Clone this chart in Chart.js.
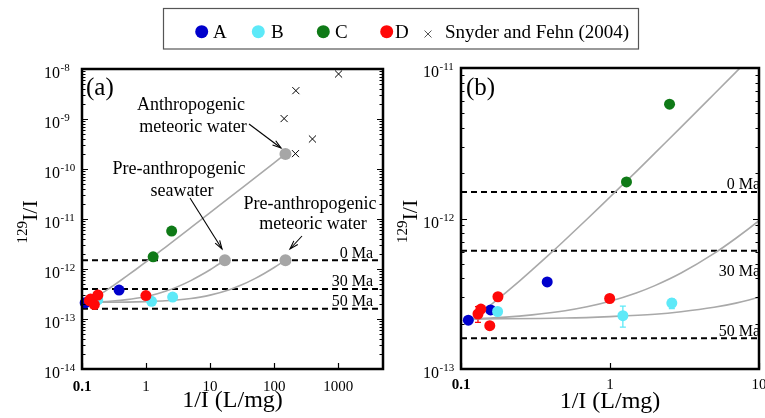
<!DOCTYPE html>
<html>
<head>
<meta charset="utf-8">
<script src="https://cdn.jsdelivr.net/npm/chart.js@4.4.0/dist/chart.umd.min.js"></script>
<style>
  html, body { margin: 0; padding: 0; background: #fff; }
  #wrap { position: relative; width: 765px; height: 418px; overflow: hidden; }
  #chartA { position: absolute; left: 0; top: 0; }
  #chartB { position: absolute; left: 390px; top: 0; }
</style>
</head>
<body>
<div id="wrap">
  <canvas id="chartA" width="765" height="418"></canvas>
  <canvas id="chartB" width="375" height="418"></canvas>
</div>
<script>
// samples (1/I in L/mg, 129I/I)
const seriesNames = ["A", "B", "C", "D"];
const aX = [0.112, 0.158, 0.379];
const aY = [2.11e-13, 2.47e-13, 3.79e-13];
const bX = [0.176, 1.22, 2.6];
const bY = [2.41e-13, 2.26e-13, 2.74e-13];
const bErr = [null, [1.90e-13, 2.62e-13], [2.52e-13, 2.92e-13]];
const cX = [1.29, 2.51];
const cY = [1.75e-12, 5.75e-12];
const dX = [0.130, 0.136, 0.156, 0.177, 0.995];
const dY = [2.32e-13, 2.50e-13, 1.94e-13, 3.02e-13, 2.94e-13];
const dErr = [[2.04e-13, 2.60e-13], null, null, null, null];

// Snyder and Fehn (2004)
const sfX = [1012, 218, 143, 396, 215];
const sfY = [7.94e-9, 3.69e-9, 1.02e-9, 3.98e-10, 2.03e-10];

// end-members: anthropogenic meteoric, pre-anthropogenic seawater, pre-anthropogenic meteoric
const endX = [150, 17, 150];
const endY = [2.0e-10, 1.5e-12, 1.5e-12];

// mixing curves
const mixX1 = [0.12, 0.13, 0.15, 0.17, 0.2, 0.25, 0.3, 0.4, 0.5, 0.7, 1, 1.5, 2, 3, 5, 7, 10, 20, 50, 100, 150];
const mixY1 = [2.15e-13, 2.28e-13, 2.55e-13, 2.82e-13, 3.22e-13, 3.88e-13, 4.55e-13, 5.88e-13, 7.22e-13, 9.88e-13,
               1.39e-12, 2.05e-12, 2.72e-12, 4.05e-12, 6.72e-12, 9.39e-12, 1.34e-11, 2.67e-11, 6.67e-11, 1.33e-10, 2.0e-10];
const mixX2 = [0.12, 0.2, 0.3, 0.5, 0.7, 1, 1.5, 2, 3, 5, 7, 10, 13, 17];
const mixY2 = [2.15e-13, 2.21e-13, 2.29e-13, 2.44e-13, 2.59e-13, 2.82e-13, 3.20e-13, 3.58e-13, 4.34e-13,
               5.86e-13, 7.39e-13, 9.67e-13, 1.20e-12, 1.50e-12];
const mixX3 = [0.12, 0.5, 1, 2, 3, 5, 7, 10, 20, 30, 50, 70, 100, 150];
const mixY3 = [2.15e-13, 2.18e-13, 2.23e-13, 2.31e-13, 2.40e-13, 2.57e-13, 2.74e-13, 3.00e-13, 3.86e-13,
               4.71e-13, 6.43e-13, 8.14e-13, 1.07e-12, 1.50e-12];

// age reference lines
const ageLabels = ["0 Ma", "30 Ma", "50 Ma"];
const ageLabelY = [1.5e-12, 4.0e-13, 1.6e-13];
const ageLinesA = [1.5e-12, 4.0e-13, 1.6e-13];
const ageLinesB = [1.5e-12, 6.1e-13, 1.6e-13];

// axis ticks
const xTicksA = [0.1, 1, 10, 100, 1000];
const xTickLabelsA = ["0.1", "1", "10", "100", "1000"];
const yExpA = [-14, -13, -12, -11, -10, -9, -8];
const xTicksB = [0.1, 1, 10];
const xTickLabelsB = ["0.1", "1", "10"];
const yExpB = [-13, -12, -11];

const colA = "#0000cc", colB = "#5de9f8", colC = "#0f7a17", colD = "#ff0808";
const grayPt = "#a6a6a6", grayLine = "#a9a9a9";
const SERIF = '"Liberation Serif", "Times New Roman", serif';

const pts = (xs, ys) => xs.map((x, i) => ({ x: x, y: ys[i] }));

function buildDatasets(xMin, xMax, ageLines) {
  const ds = [];
  const dot = (label, xs, ys, color, order) => ({
    label, data: pts(xs, ys), backgroundColor: color, borderWidth: 0,
    pointRadius: 5.5, pointHoverRadius: 5.5, showLine: false, order, clip: false
  });
  ds.push(dot("D", dX, dY, colD, 1));
  ds.push(dot("C", cX, cY, colC, 1));
  ds.push(dot("B", bX, bY, colB, 1));
  ds.push(dot("A", aX, aY, colA, 1));
  ds.push({
    label: "Snyder and Fehn (2004)", data: pts(sfX, sfY), pointStyle: "crossRot",
    pointRadius: 5, borderColor: "#000", borderWidth: 1, showLine: false, order: 0
  });
  ds.push({
    label: "end-members", data: pts(endX, endY), backgroundColor: grayPt,
    borderWidth: 0, pointRadius: 6, showLine: false, order: 2
  });
  [[mixX1, mixY1], [mixX2, mixY2], [mixX3, mixY3]].forEach(([xs, ys], i) => {
    ds.push({
      label: "mix" + i, data: pts(xs, ys), showLine: true, pointRadius: 0,
      borderColor: grayLine, borderWidth: 1.6, cubicInterpolationMode: "monotone", order: 3
    });
  });
  ageLines.forEach((v, i) => {
    ds.push({
      label: ageLabels[i], data: [{ x: xMin, y: v }, { x: xMax, y: v }], showLine: true,
      pointRadius: 0, borderColor: "#000", borderWidth: 2, borderDash: [6, 4], order: 4
    });
  });
  return ds;
}

function drawPow(ctx, x, base, exp) {
  ctx.textAlign = "left";
  ctx.font = "16px " + SERIF;
  ctx.fillText("10", x, base);
  const w = ctx.measureText("10").width;
  ctx.font = "11px " + SERIF;
  ctx.fillText("-" + Math.abs(exp), w + x + 0.5, base - 7);
}

function arrow(ctx, x1, y1, x2, y2) {
  ctx.beginPath();
  ctx.moveTo(x1, y1);
  ctx.lineTo(x2, y2);
  ctx.stroke();
  const a = Math.atan2(y2 - y1, x2 - x1);
  const L = 9, s = 0.3;
  ctx.beginPath();
  ctx.moveTo(x2 - L * Math.cos(a - s), y2 - L * Math.sin(a - s));
  ctx.lineTo(x2, y2);
  ctx.lineTo(x2 - L * Math.cos(a + s), y2 - L * Math.sin(a + s));
  ctx.stroke();
}

function errorBars(chart) {
  const ctx = chart.ctx, xs = chart.scales.x, ys = chart.scales.y, ca = chart.chartArea;
  ctx.save();
  ctx.beginPath();
  ctx.rect(ca.left, ca.top, ca.right - ca.left, ca.bottom - ca.top);
  ctx.clip();
  ctx.lineWidth = 1.3;
  [[bX, bErr, colB], [dX, dErr, colD]].forEach(([xv, ev, col]) => {
    ctx.strokeStyle = col;
    ev.forEach((e, i) => {
      if (!e) return;
      const px = xs.getPixelForValue(xv[i]);
      const lo = ys.getPixelForValue(e[0]), hi = ys.getPixelForValue(e[1]);
      ctx.beginPath();
      ctx.moveTo(px, lo); ctx.lineTo(px, hi);
      ctx.moveTo(px - 3, lo); ctx.lineTo(px + 3, lo);
      ctx.moveTo(px - 3, hi); ctx.lineTo(px + 3, hi);
      ctx.stroke();
    });
  });
  ctx.restore();
}

function decor(cfg) {
  return {
    id: "decor" + cfg.name,
    beforeDatasetsDraw(chart) { errorBars(chart); },
    afterDatasetsDraw(chart) {
      const ctx = chart.ctx, xs = chart.scales.x, ys = chart.scales.y, ca = chart.chartArea;
      ctx.save();
      ctx.fillStyle = "#000";
      ctx.strokeStyle = "#000";
      // age labels
      ctx.font = "16px " + SERIF;
      ctx.textAlign = "right";
      ageLabels.forEach((t, i) => {
        ctx.fillText(t, cfg.ageRight, ys.getPixelForValue(ageLabelY[i]) - 2.5);
      });
      // ticks on y (left and right)
      ctx.lineWidth = 1.2;
      const e0 = cfg.yExp[0], e1 = cfg.yExp[cfg.yExp.length - 1];
      for (let e = e0; e <= e1; e++) {
        for (let m = 1; m <= 9; m++) {
          if (e === e1 && m > 1) break;
          const py = Math.round(ys.getPixelForValue(m * Math.pow(10, e))) + 0.5;
          const len = m === 1 ? 6 : 3.5;
          ctx.beginPath();
          ctx.moveTo(ca.left, py); ctx.lineTo(ca.left + len, py);
          ctx.moveTo(ca.right, py); ctx.lineTo(ca.right - len, py);
          ctx.stroke();
        }
      }
      // ticks on x (bottom)
      cfg.xTicks.forEach((v) => {
        const px = Math.round(xs.getPixelForValue(v)) + 0.5;
        ctx.beginPath();
        ctx.moveTo(px, ca.bottom); ctx.lineTo(px, ca.bottom - 6);
        ctx.stroke();
      });
      // frame
      ctx.lineWidth = 2.5;
      ctx.strokeRect(ca.left, ca.top, ca.right - ca.left, ca.bottom - ca.top);
      // y tick labels
      ctx.textBaseline = "alphabetic";
      cfg.yExp.forEach((e) => {
        drawPow(ctx, cfg.yLabelX, ys.getPixelForValue(Math.pow(10, e)) + 9, e);
      });
      // x tick labels
      ctx.textAlign = "center";
      cfg.xTicks.forEach((v, i) => {
        ctx.font = (i === 0 ? "bold " : "") + "15px " + SERIF;
        ctx.fillText(cfg.xTickLabels[i], xs.getPixelForValue(v), cfg.xLabelBase);
      });
      // x title
      ctx.font = "24px " + SERIF;
      ctx.fillText("1/I (L/mg)", (ca.left + ca.right) / 2, cfg.xTitleBase);
      // y title
      ctx.save();
      ctx.translate(cfg.yTitleX, cfg.yTitleY);
      ctx.rotate(-Math.PI / 2);
      ctx.textAlign = "left";
      ctx.font = "15px " + SERIF;
      ctx.fillText("129", 0, -10);
      const w = ctx.measureText("129").width;
      ctx.font = "22px " + SERIF;
      ctx.fillText("I/I", w, 0);
      ctx.restore();
      // panel letter
      ctx.textAlign = "left";
      ctx.font = "25px " + SERIF;
      ctx.fillText(cfg.letter, cfg.letterX, cfg.letterY);
      if (cfg.extra) cfg.extra(ctx);
      ctx.restore();
    }
  };
}

const annotationsA = (ctx) => {
  ctx.font = "18px " + SERIF;
  ctx.textAlign = "center";
  ctx.fillText("Anthropogenic", 191, 110);
  ctx.fillText("meteoric water", 193, 132);
  ctx.fillText("Pre-anthropogenic", 179, 174);
  ctx.fillText("seawater", 182, 196);
  ctx.fillText("Pre-anthropogenic", 310, 209);
  ctx.fillText("meteoric water", 313, 229);
  ctx.lineWidth = 1.1;
  arrow(ctx, 249, 124, 281, 148);
  arrow(ctx, 190, 198, 222, 249);
  arrow(ctx, 302, 236, 290, 249);
};

const legendPlugin = {
  id: "topLegend",
  afterDraw(chart) {
    const ctx = chart.ctx;
    ctx.save();
    ctx.strokeStyle = "#555";
    ctx.lineWidth = 1.2;
    ctx.strokeRect(163.5, 8.5, 475, 40.5);
    ctx.font = "19px " + SERIF;
    ctx.fillStyle = "#000";
    ctx.textAlign = "left";
    const items = [[seriesNames[0], colA, 201.7, 213], [seriesNames[1], colB, 258.3, 271],
                   [seriesNames[2], colC, 323.3, 335], [seriesNames[3], colD, 386.7, 395]];
    items.forEach(([t, col, cx, tx]) => {
      ctx.fillStyle = col;
      ctx.beginPath();
      ctx.arc(cx, 31.7, 6.5, 0, Math.PI * 2);
      ctx.fill();
      ctx.fillStyle = "#000";
      ctx.fillText(t, tx, 37.5);
    });
    ctx.lineWidth = 1;
    ctx.beginPath();
    ctx.moveTo(424.5, 30.5); ctx.lineTo(431.5, 37.5);
    ctx.moveTo(431.5, 30.5); ctx.lineTo(424.5, 37.5);
    ctx.stroke();
    ctx.fillText("Snyder and Fehn (2004)", 445, 37.5);
    ctx.restore();
  }
};

function options(xMin, xMax, yMin, yMax, pad) {
  return {
    responsive: false,
    animation: false,
    events: [],
    layout: { padding: pad },
    plugins: { legend: { display: false }, tooltip: { enabled: false } },
    scales: {
      x: { type: "logarithmic", min: xMin, max: xMax, display: false },
      y: { type: "logarithmic", min: yMin, max: yMax, display: false }
    }
  };
}

new Chart(document.getElementById("chartA").getContext("2d"), {
  type: "scatter",
  data: { datasets: buildDatasets(0.1, 5000, ageLinesA) },
  options: options(0.1, 5000, 1e-14, 1e-8, { left: 82, right: 382, top: 69, bottom: 49 }),
  plugins: [decor({
    name: "A", yExp: yExpA, xTicks: xTicksA, xTickLabels: xTickLabelsA,
    yLabelX: 44, xLabelBase: 391, xTitleBase: 407, yTitleX: 37, yTitleY: 243.5,
    ageRight: 373, letter: "(a)", letterX: 86, letterY: 95, extra: annotationsA
  }), legendPlugin]
});

new Chart(document.getElementById("chartB").getContext("2d"), {
  type: "scatter",
  data: { datasets: buildDatasets(0.1, 10, ageLinesB) },
  options: options(0.1, 10, 1e-13, 1e-11, { left: 71, right: 3, top: 68, bottom: 49 }),
  plugins: [decor({
    name: "B", yExp: yExpB, xTicks: xTicksB, xTickLabels: xTickLabelsB,
    yLabelX: 33, xLabelBase: 389, xTitleBase: 408, yTitleX: 26.7, yTitleY: 243,
    ageRight: 370, letter: "(b)", letterX: 76, letterY: 95
  })]
});
</script>
</body>
</html>
